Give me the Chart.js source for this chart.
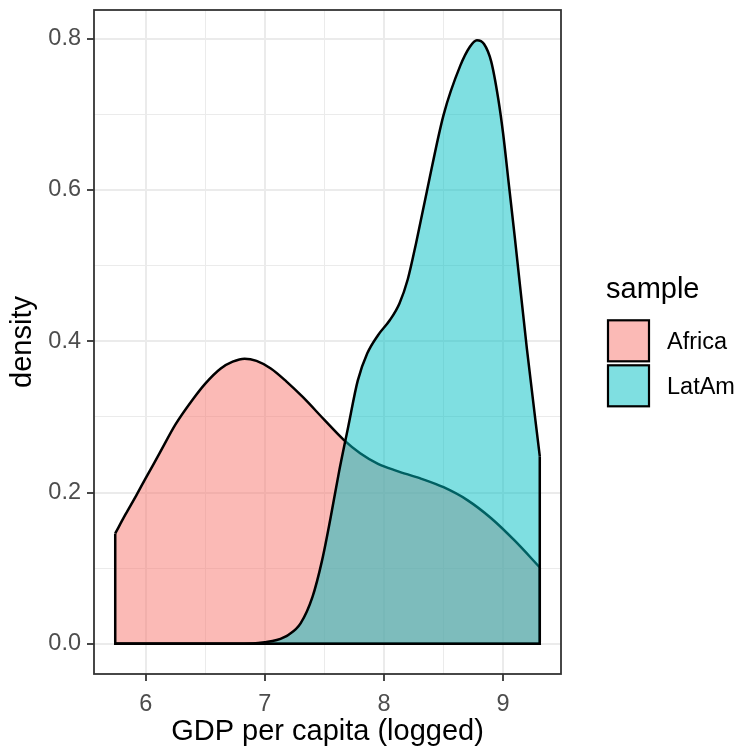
<!DOCTYPE html>
<html>
<head>
<meta charset="utf-8">
<script src="https://cdn.jsdelivr.net/npm/chart.js@4.4.0/dist/chart.umd.min.js"></script>
<style>
	body { margin: 0; background: #fff; }
	canvas { display: block; }
</style>
</head>
<body>
<canvas id="density-chart" width="737" height="749"></canvas>
<script>
// series names + legend title
var seriesNames = ['Africa', 'LatAm'];
var legendTitle = 'sample';

// density curves (x = log GDP per capita)
var africaX = [5.744, 5.83, 5.92, 6.0, 6.12, 6.25, 6.39, 6.5, 6.63, 6.73, 6.83, 6.93, 7.05, 7.18, 7.32, 7.5, 7.66, 7.8, 7.95, 8.1, 8.3, 8.5, 8.7, 8.9, 9.1, 9.308];
var africaY = [0.146, 0.171, 0.196, 0.219, 0.253, 0.290, 0.322, 0.344, 0.364, 0.373, 0.377, 0.374, 0.364, 0.347, 0.326, 0.296, 0.270, 0.252, 0.238, 0.229, 0.219, 0.207, 0.190, 0.166, 0.136, 0.101];

var latamX = [5.744, 6.5, 6.9, 7.0, 7.1, 7.2, 7.3, 7.4, 7.48, 7.55, 7.62, 7.7, 7.78, 7.86, 7.95, 8.05, 8.13, 8.2, 8.27, 8.36, 8.5, 8.64, 8.72, 8.78, 8.84, 8.9, 8.96, 9.0, 9.05, 9.1, 9.2, 9.308];
var latamY = [0, 0, 0.0005, 0.002, 0.005, 0.012, 0.027, 0.062, 0.11, 0.165, 0.225, 0.287, 0.348, 0.384, 0.408, 0.428, 0.45, 0.482, 0.53, 0.598, 0.699, 0.764, 0.789, 0.798, 0.793, 0.77, 0.72, 0.675, 0.605, 0.535, 0.39, 0.248];

// axis ticks (blank label = minor grid line)
var xTicks = [6, 6.5, 7, 7.5, 8, 8.5, 9];
var xLabels = ['6', '', '7', '', '8', '', '9'];
var yTicks = [0, 0.1, 0.2, 0.3, 0.4, 0.5, 0.6, 0.7, 0.8];
var yLabels = ['0.0', '', '0.2', '', '0.4', '', '0.6', '', '0.8'];

var fillColors = ['rgba(248,118,109,0.5)', 'rgba(0,191,196,0.5)'];
var FONT = "'Liberation Sans', Arial, sans-serif";

function points(xs, ys) {
	return xs.map(function(x, i) { return { x: x, y: ys[i] }; });
}

// outline pieces ggplot draws round the area: left side, baseline, right side
function edges(xs, ys) {
	var n = xs.length - 1;
	return [
		{ x: xs[0], y: ys[0] },
		{ x: xs[0], y: 0 },
		{ x: xs[n], y: 0 },
		{ x: xs[n], y: ys[n] }
	];
}

// ggplot-style 5% expansion of the data range
var allX = africaX.concat(latamX);
var allY = africaY.concat(latamY);
var xLo = Math.min.apply(null, allX), xHi = Math.max.apply(null, allX);
var yLo = 0, yHi = Math.max.apply(null, allY);
var xPad = (xHi - xLo) * 0.05, yPad = (yHi - yLo) * 0.05;

function labelFor(ticks, labels, value) {
	for (var i = 0; i < ticks.length; i++) {
		if (Math.abs(ticks[i] - value) < 1e-9) return labels[i];
	}
	return '';
}

function gridOpts(ticks, labels) {
	return {
		color: '#EBEBEB',
		lineWidth: function(c) {
			return c.tick && labelFor(ticks, labels, c.tick.value) !== '' ? 2 : 1;
		},
		drawTicks: true,
		tickLength: 7,
		tickWidth: 1.8,
		tickColor: function(c) {
			return c.tick && labelFor(ticks, labels, c.tick.value) !== '' ? '#333333' : 'rgba(0,0,0,0)';
		}
	};
}

// keep the panel where ggplot put it, no extra room for half labels
function noPadding(s) {
	s.paddingTop = 0;
	s.paddingBottom = 0;
	s.paddingLeft = 0;
	s.paddingRight = 0;
}

var panelBorder = {
	id: 'panelBorder',
	afterDraw: function(chart) {
		var a = chart.chartArea, ctx = chart.ctx;
		ctx.save();
		ctx.strokeStyle = '#333333';
		ctx.lineWidth = 1.8;
		ctx.strokeRect(a.left, a.top, a.right - a.left, a.bottom - a.top);
		ctx.restore();
	}
};

// legend like ggplot's: title, then stacked keys
var ggLegend = {
	id: 'ggLegend',
	afterDraw: function(chart) {
		var ctx = chart.ctx;
		var x0 = 608, keyTop = 320.3, key = 41, pitch = 45;
		ctx.save();
		ctx.fillStyle = '#000';
		ctx.textAlign = 'left';
		ctx.textBaseline = 'alphabetic';
		ctx.font = '29px ' + FONT;
		ctx.fillText(legendTitle, 606, 298);
		ctx.font = '23.5px ' + FONT;
		for (var i = 0; i < seriesNames.length; i++) {
			var y = keyTop + i * pitch;
			ctx.fillStyle = '#fff';
			ctx.fillRect(x0, y, key, key);
			ctx.fillStyle = fillColors[i];
			ctx.fillRect(x0, y, key, key);
			ctx.strokeStyle = '#000';
			ctx.lineWidth = 2.2;
			ctx.strokeRect(x0, y, key, key);
			ctx.fillStyle = '#000';
			ctx.fillText(seriesNames[i], 667, y + 29);
		}
		ctx.restore();
	}
};

var ctx = document.getElementById('density-chart');

var chart = new Chart(ctx, {
	type: 'line',
	data: {
		datasets: [
			{
				label: seriesNames[1] + ' outline',
				data: edges(latamX, latamY),
				borderColor: '#000',
				borderWidth: 2.5,
				tension: 0,
				pointRadius: 0,
				fill: false,
				order: 1
			},
			{
				label: seriesNames[1],
				data: points(latamX, latamY),
				borderColor: '#000',
				backgroundColor: fillColors[1],
				borderWidth: 2.5,
				cubicInterpolationMode: 'monotone',
				pointRadius: 0,
				fill: 'origin',
				order: 2
			},
			{
				label: seriesNames[0] + ' outline',
				data: edges(africaX, africaY),
				borderColor: '#000',
				borderWidth: 2.5,
				tension: 0,
				pointRadius: 0,
				fill: false,
				order: 3
			},
			{
				label: seriesNames[0],
				data: points(africaX, africaY),
				borderColor: '#000',
				backgroundColor: fillColors[0],
				borderWidth: 2.5,
				cubicInterpolationMode: 'monotone',
				pointRadius: 0,
				fill: 'origin',
				order: 4
			}
		]
	},
	options: {
		responsive: false,
		animation: false,
		layout: { padding: { left: 0, right: 176, top: 10, bottom: 0 } },
		plugins: {
			legend: { display: false },
			tooltip: { enabled: false }
		},
		scales: {
			x: {
				type: 'linear',
				min: xLo - xPad,
				max: xHi + xPad,
				afterBuildTicks: function(s) { s.ticks = xTicks.map(function(v) { return { value: v }; }); },
				afterFit: function(s) { s.height = 75; noPadding(s); },
				grid: gridOpts(xTicks, xLabels),
				border: { display: false },
				ticks: {
					autoSkip: false,
					maxRotation: 0,
					padding: 9,
					color: '#4D4D4D',
					font: { family: FONT, size: 23.5 },
					callback: function(v) { return labelFor(xTicks, xLabels, v); }
				},
				title: {
					display: true,
					text: 'GDP per capita (logged)',
					color: '#000',
					font: { family: FONT, size: 29 },
					padding: { top: 0, bottom: 0 }
				}
			},
			y: {
				type: 'linear',
				min: yLo - yPad,
				max: yHi + yPad,
				afterBuildTicks: function(s) { s.ticks = yTicks.map(function(v) { return { value: v }; }); },
				afterFit: function(s) { s.width = 94; noPadding(s); },
				grid: gridOpts(yTicks, yLabels),
				border: { display: false },
				ticks: {
					autoSkip: false,
					padding: 6,
					color: '#4D4D4D',
					font: { family: FONT, size: 23.5 },
					callback: function(v) { return labelFor(yTicks, yLabels, v); }
				},
				title: {
					display: true,
					text: 'density',
					color: '#000',
					font: { family: FONT, size: 29 },
					padding: { top: 6, bottom: 0 }
				}
			}
		}
	},
	plugins: [panelBorder, ggLegend]
});
</script>
</body>
</html>
